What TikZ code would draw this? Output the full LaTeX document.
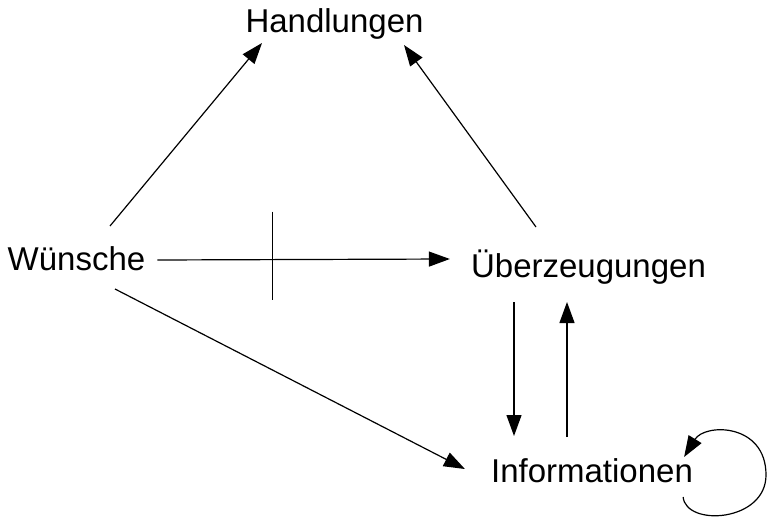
\documentclass[tikz,border=0pt]{standalone}
\usepackage{fontspec}
\setmainfont{Liberation Sans}
\usepackage{tikz}
\usetikzlibrary{arrows.meta}

\tikzset{
  begriff/.style={anchor=base, inner sep=0pt, font=\fontsize{33}{40}\selectfont},
  pfeil/.style={line width=1.2pt, -{Triangle[length=21pt,width=15pt]}}
}

\begin{document}
\begin{tikzpicture}[x=1pt, y=-1pt]
    \useasboundingbox (0,0) rectangle (767,521);

    % Nodes for the terms
    \node[begriff] (H) at (334.5,33) {Handlungen};
    \node[begriff] (W) at (76.5,270) {Wünsche};
    \node[begriff] (U) at (588.5,277) {Überzeugungen};
    \node[begriff] (I) at (592,482) {Informationen};

    % Arrows to Handlungen
    \draw[pfeil] ([xshift=33.5pt,yshift=44pt]W.base) -- ([xshift=-72.5pt,yshift=-10pt]H.base);
    \draw[pfeil] ([xshift=-52.5pt,yshift=50pt]U.base) -- ([xshift=69.5pt,yshift=-12pt]H.base);

    % Crossed arrow Wünsche to Überzeugungen
    \draw[pfeil] ([xshift=12pt,yshift=10pt]W.base east) -- coordinate[pos=0.392] (cut) ([xshift=-21pt,yshift=18pt]U.base west);
    \draw[line width=1.2pt] ([yshift=48pt]cut) -- ([yshift=-40pt]cut);

    % Wünsche to Informationen
    \draw[pfeil] ([xshift=38.5pt,yshift=-19pt]W.base) -- ([xshift=-26pt,yshift=13pt]I.base west);

    % Between Überzeugungen and Informationen
    \draw[pfeil] ([xshift=-74.5pt,yshift=-25pt]U.base) -- ([xshift=-78pt,yshift=46pt]I.base);
    \draw[pfeil] ([xshift=-25pt,yshift=45pt]I.base) -- ([xshift=-21.5pt,yshift=-25pt]U.base);

    % Loop at Informationen
    \draw[pfeil] ([xshift=-10pt,yshift=-15pt]I.base east)
        .. controls +(3,30) and (766,522) .. (766,475)
        .. controls (766,423) and (705,423) .. ([xshift=-9pt,yshift=25pt]I.base east);

\end{tikzpicture}
\end{document}
